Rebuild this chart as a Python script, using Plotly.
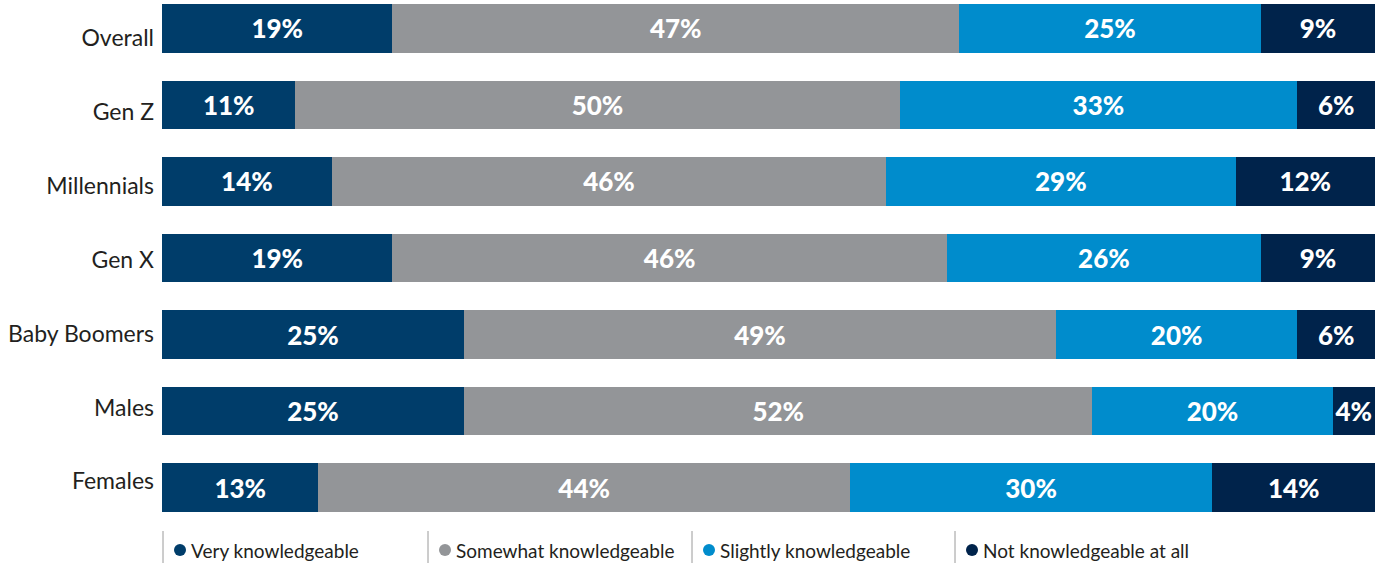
import plotly.graph_objects as go

categories = ["Overall", "Gen Z", "Millennials", "Gen X", "Baby Boomers", "Males", "Females"]
series_names = ["Very knowledgeable", "Somewhat knowledgeable", "Slightly knowledgeable", "Not knowledgeable at all"]
very = [19.0, 11.0, 14.0, 19.0, 24.9, 24.9, 12.9]
somewhat = [46.7, 49.8, 45.7, 45.7, 48.8, 51.8, 43.8]
slightly = [24.9, 32.8, 28.8, 25.9, 19.9, 19.8, 29.9]
not_at_all = [9.4, 6.4, 11.5, 9.4, 6.4, 3.5, 13.4]
very_lbl = [19, 11, 14, 19, 25, 25, 13]
somewhat_lbl = [47, 50, 46, 46, 49, 52, 44]
slightly_lbl = [25, 33, 29, 26, 20, 20, 30]
not_lbl = [9, 6, 12, 9, 6, 4, 14]

colors = ["#003D6A", "#939598", "#008CCC", "#00234B"]
values = [very, somewhat, slightly, not_at_all]
labels = [very_lbl, somewhat_lbl, slightly_lbl, not_lbl]

W, H = 1380, 563
L, R, T, B = 162, 5, 4, 51
PW, PH = W - L - R, H - T - B

fig = go.Figure()
for name, vals, lbls, col in zip(series_names, values, labels, colors):
    fig.add_trace(go.Bar(
        y=categories, x=vals, orientation="h", name=name,
        marker=dict(color=col, line=dict(width=0)),
        text=[f"{v}%" for v in lbls], textposition="inside",
        insidetextanchor="middle", textangle=0, constraintext="none",
        textfont=dict(family="Lato", size=26, color="white", weight=900),
        showlegend=False, hoverinfo="skip",
    ))

# invisible trace carrying the category labels on a second axis
fig.add_trace(go.Scatter(y=categories, x=[0] * len(categories), yaxis="y2",
                         mode="markers", marker=dict(opacity=0, size=1),
                         showlegend=False, hoverinfo="skip"))

fig.update_layout(
    barmode="stack", bargap=0.364,
    width=W, height=H,
    margin=dict(l=L, r=R, t=T, b=B, autoexpand=False),
    plot_bgcolor="white", paper_bgcolor="white",
    xaxis=dict(range=[0, 100], visible=False, fixedrange=True),
    yaxis=dict(type="category", categoryarray=categories, range=[6.318, -0.318],
               showgrid=False, zeroline=False, showline=False, showticklabels=False, ticks=""),
    yaxis2=dict(type="category", categoryarray=categories, range=[6.414, -0.460],
                overlaying="y", side="left", showgrid=False, zeroline=False, showline=False,
                ticks="", ticklabelstandoff=7,
                tickfont=dict(family="Lato", size=23, color="#231F20")),
    font=dict(family="Lato"),
)

def px_x(px):
    return (px - L) / PW

def px_y(py):
    return (H - B - py) / PH

leg_sep = [163, 428, 692, 955]
for i, (name, col) in enumerate(zip(series_names, colors)):
    fig.add_shape(type="line", xref="paper", yref="paper",
                  x0=px_x(leg_sep[i]), x1=px_x(leg_sep[i]), y0=px_y(531), y1=px_y(563),
                  line=dict(color="#9A9A9A", width=1))
    fig.add_shape(type="circle", xref="paper", yref="paper",
                  xsizemode="pixel", ysizemode="pixel",
                  xanchor=px_x(leg_sep[i] + 17), yanchor=px_y(550),
                  x0=-6, x1=6, y0=-6, y1=6,
                  fillcolor=col, line=dict(width=0))
    fig.add_annotation(xref="paper", yref="paper", x=px_x(leg_sep[i] + 26), y=px_y(550),
                       xanchor="left", yanchor="middle", showarrow=False,
                       text=name, font=dict(family="Lato", size=19, color="#231F20"))

fig.write_html("out.html", config={"displayModeBar": False},
               post_script="document.body.style.margin='0';")
